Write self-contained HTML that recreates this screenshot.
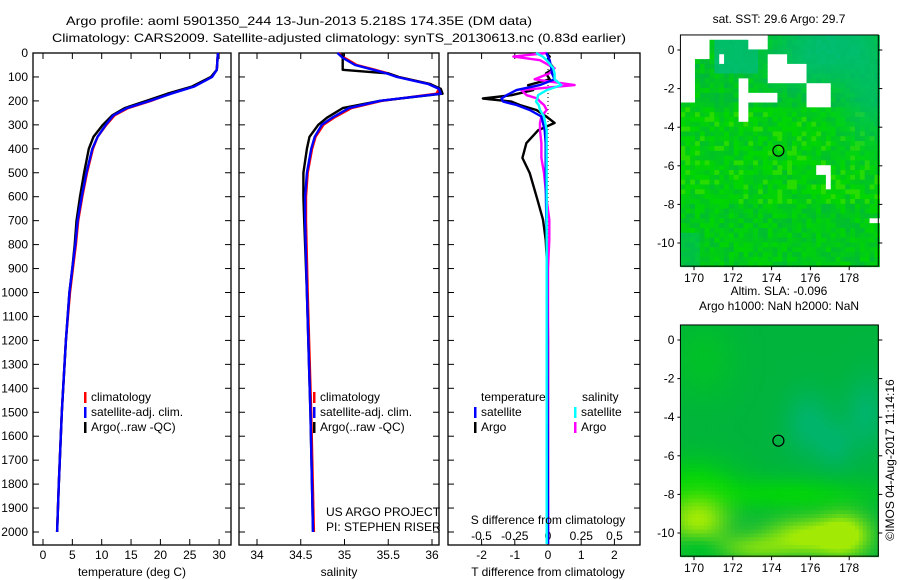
<!DOCTYPE html>
<html><head><meta charset="utf-8"><style>
html,body{margin:0;padding:0;background:#fff;}
svg{display:block;font-family:"Liberation Sans",sans-serif;}
text{font-size:12px;fill:#000;}
</style></head><body>
<svg id="chart" width="900" height="580" viewBox="0 0 900 580" xmlns="http://www.w3.org/2000/svg">
<text x="66" y="25" font-size="13" textLength="466" lengthAdjust="spacingAndGlyphs">Argo profile: aoml 5901350_244 13-Jun-2013 5.218S 174.35E (DM data)</text>
<text x="52" y="42" font-size="13" textLength="574" lengthAdjust="spacingAndGlyphs">Climatology: CARS2009. Satellite-adjusted climatology: synTS_20130613.nc (0.83d earlier)</text>
<g id="g1"></g><g id="g2"></g><g id="g3"></g><g id="m1"></g><g id="m2"></g>
<text transform="translate(894,460) rotate(-90)" text-anchor="middle" font-size="12">©IMOS 04-Aug-2017 11:14:16</text>
</svg>
<script>
// ---- data ----
const tDepth=[0,70,100,140,170,200,230,260,300,350,400,500,600,700,800,900,1000,1200,1500,1800,2000];
const tClim=[29.8,29.6,28.7,25.6,21.6,18.4,14.5,12.2,10.8,9.3,8.5,7.5,6.7,6.0,5.6,5.1,4.6,3.9,3.2,2.7,2.4];
const tSat=[29.8,29.6,28.8,25.8,21.8,18.2,14.3,12.0,10.7,9.3,8.4,7.4,6.6,5.9,5.5,5.0,4.5,3.9,3.2,2.7,2.4];
const tArgo=[29.8,29.6,28.6,25.4,21.2,17.6,13.9,11.8,10.2,8.6,7.8,7.0,6.3,5.7,5.4,5.0,4.5,3.9,3.2,2.7,2.4];
const sDepth=[0,20,50,70,85,100,130,150,170,200,230,270,300,350,400,500,600,700,1000,1500,2000];
const sClim=[34.93,35.0,35.14,35.35,35.5,35.62,35.98,36.08,36.05,35.42,35.08,34.88,34.76,34.67,34.63,34.58,34.56,34.56,34.58,34.62,34.65];
const sSat=[34.92,34.98,35.12,35.33,35.48,35.6,35.96,36.08,36.1,35.4,35.05,34.86,34.74,34.66,34.62,34.57,34.55,34.55,34.57,34.61,34.64];
const sArgo=[34.98,34.98,34.98,34.98,35.5,35.62,35.98,36.1,36.12,35.4,34.98,34.8,34.7,34.6,34.57,34.53,34.53,34.54,34.57,34.61,34.64];
const dDepth=[0,15,30,64,85,110,134,155,176,190,203,217,238,265,292,323,376,438,501,612,696,780,900,1200,1600,2050];
const dTArgo=[-0.06,0.05,-0.03,0.18,-0.06,0.05,-0.6,-0.45,-1.1,-1.96,-1.1,-0.85,-0.35,-0.05,0.2,-0.3,-0.65,-0.77,-0.55,-0.32,-0.15,-0.07,-0.02,0.0,0.0,0.0];
const dTSat=[-0.05,0.0,0.05,0.1,0.12,0.2,-0.25,-0.95,-1.25,-1.4,-1.35,-0.95,-0.55,-0.2,-0.15,-0.1,-0.07,-0.07,-0.07,-0.06,-0.05,-0.04,-0.03,-0.02,-0.01,0.0];
const dSSat=[-0.09,-0.04,-0.01,0.04,0.05,0.05,0.1,-0.01,-0.075,-0.08,-0.09,-0.07,-0.06,-0.03,-0.02,-0.01,-0.01,-0.01,-0.01,-0.01,-0.01,-0.01,-0.01,-0.01,-0.01,-0.01];
const dSArgo=[-0.01,-0.26,-0.06,0.05,0.01,-0.1,0.2,-0.2,-0.16,-0.08,-0.06,-0.03,-0.01,-0.05,-0.06,-0.06,-0.05,-0.05,-0.03,-0.01,0.01,0.01,0.0,0.0,0.0,0.0];
const depthTicks=[0,100,200,300,400,500,600,700,800,900,1000,1100,1200,1300,1400,1500,1600,1700,1800,1900,2000];
const tTicks=[0,5,10,15,20,25,30];
const sTicks=[34,34.5,35,35.5,36];
const dtTicks=[-2,-1,0,1,2];
const dsTicks=[-0.5,-0.25,0,0.25,0.5];
const dsTickLabels=["-0.5","-0.25","0","0.25","0.5"];
const lonTicks=[170,172,174,176,178];
const latTicks=[0,-2,-4,-6,-8,-10];
const argoLon=174.35, argoLat=-5.218;

const NS="http://www.w3.org/2000/svg";
function el(p,tag,at){const e=document.createElementNS(NS,tag);for(const k in at)e.setAttribute(k,at[k]);p.appendChild(e);return e;}
function txt(p,x,y,s,anchor){const t=el(p,'text',{x:x,y:y,'text-anchor':anchor||'start'});t.textContent=s;return t;}
const TOP=53,BOT=545;
const yD=d=>TOP+d*0.2395;
const xT=v=>43+v*5.87;
const xS=v=>257+(v-34)*87.5;
const xDT=v=>548+v*33.2;
const xDS=v=>548+v*133;

function frame(g,x0,x1,name){
  const r=el(g,'rect',{x:x0,y:TOP,width:x1-x0,height:BOT-TOP,fill:'none',stroke:'#000','stroke-width':1.3});
  
  
  depthTicks.forEach(d=>{el(g,'line',{x1:x0,x2:x0+6,y1:yD(d),y2:yD(d),stroke:'#000'});el(g,'line',{x1:x1,x2:x1-6,y1:yD(d),y2:yD(d),stroke:'#000'});});
}
function xticks(g,vals,fx,labels,ly,name){
  vals.forEach((v,i)=>{const x=fx(v);el(g,'line',{x1:x,x2:x,y1:TOP,y2:TOP+6,stroke:'#000'});el(g,'line',{x1:x,x2:x,y1:BOT,y2:BOT-6,stroke:'#000'});
    if(labels){const t=txt(g,x,ly,labels[i],'middle');}});
}
function line(g,depths,vals,fx,fy,col,name){
  const pts=depths.map((d,i)=>fx(vals[i]).toFixed(1)+','+fy(d).toFixed(1)).join(' ');
  const p=el(g,'polyline',{points:pts,fill:'none',stroke:col,'stroke-width':2.4,'stroke-linejoin':'round'});
  
  
}
function legend(g,x,y,col,label,name){
  el(g,'rect',{x:x,y:y-9,width:2.5,height:11,fill:col});
  const t=txt(g,x+7,y,label);
  
  
}
// Panel 1
const g1=document.getElementById('g1');
frame(g1,33,231,'temperature-panel');
depthTicks.forEach(d=>{const t=txt(g1,28,yD(d)+4,String(d),'end');});
xticks(g1,tTicks,xT,tTicks.map(String),559,'temperature');
line(g1,tDepth,tClim,xT,yD,'#ff0000','temperature-climatology-line');
line(g1,tDepth,tArgo,xT,yD,'#000000','temperature-argo-line');
line(g1,tDepth,tSat,xT,yD,'#0000ff','temperature-satellite-line');
{const t=txt(g1,132,576,'temperature (deg C)','middle');}
legend(g1,84,401,'#ff0000','climatology','legend-climatology');
legend(g1,84,416,'#0000ff','satellite-adj. clim.','legend-satellite');
legend(g1,84,431,'#000000','Argo(..raw -QC)','legend-argo');
// Panel 2
const g2=document.getElementById('g2');
frame(g2,239,439,'salinity-panel');
xticks(g2,sTicks,xS,sTicks.map(String),559,'salinity');
line(g2,sDepth,sClim,xS,yD,'#ff0000','salinity-climatology-line');
line(g2,sDepth,sArgo,xS,yD,'#000000','salinity-argo-line');
line(g2,sDepth,sSat,xS,yD,'#0000ff','salinity-satellite-line');
{const t=txt(g2,339,576,'salinity','middle');}
legend(g2,313,401,'#ff0000','climatology','legend-climatology-2');
legend(g2,313,416,'#0000ff','satellite-adj. clim.','legend-satellite-2');
legend(g2,313,431,'#000000','Argo(..raw -QC)','legend-argo-2');
{const t=txt(g2,326,516,'US ARGO PROJECT');
 const u=txt(g2,326,531,'PI: STEPHEN RISER');}
// Panel 3
const g3=document.getElementById('g3');
frame(g3,448,640,'difference-panel');
el(g3,'line',{x1:548,x2:548,y1:TOP,y2:BOT,stroke:'#000','stroke-dasharray':'1,3'});
xticks(g3,dtTicks,xDT,dtTicks.map(String),559,'t-difference');
dsTicks.forEach((v,i)=>{const t=txt(g3,xDS(v),540,dsTickLabels[i],'middle');});
line(g3,dDepth,dTArgo,xDT,yD,'#000000','t-diff-argo-line');
line(g3,dDepth,dSArgo,xDS,yD,'#ff00ff','s-diff-argo-line');
line(g3,dDepth,dTSat,xDT,yD,'#0000ff','t-diff-satellite-line');
line(g3,dDepth,dSSat,xDS,yD,'#00ffff','s-diff-satellite-line');
{const t=txt(g3,548,524,'S difference from climatology','middle');
 const u=txt(g3,548,576,'T difference from climatology','middle');
 const a=txt(g3,481,401,'temperature');
 const b=txt(g3,582,401,'salinity');}
legend(g3,474,416,'#0000ff','satellite','legend-t-satellite');
legend(g3,474,431,'#000000','Argo','legend-t-argo');
legend(g3,574,416,'#00ffff','satellite','legend-s-satellite');
legend(g3,574,431,'#ff00ff','Argo','legend-s-argo');

// Maps
const LON0=169.3,LON1=179.5,LATT=0.78,LATB=-11.2;
const lx=lon=>694+(lon-170)*19.4;
function mapFrame(g,y0,name,title1,title2){
  const ly=lat=>y0-lat*19.3;
  const top=ly(LATT),bot=ly(LATB);
  el(g,'rect',{x:lx(LON0),y:top,width:lx(LON1)-lx(LON0),height:bot-top,fill:'none',stroke:'#000','stroke-width':1});
  lonTicks.forEach(v=>{el(g,'line',{x1:lx(v),x2:lx(v),y1:bot,y2:bot+4,stroke:'#000'});const t=txt(g,lx(v),bot+16,String(v),'middle');});
  latTicks.forEach(v=>{el(g,'line',{x1:lx(LON1),x2:lx(LON1)+4,y1:ly(v),y2:ly(v),stroke:'#000'});el(g,'line',{x1:lx(LON0)-3,x2:lx(LON0),y1:ly(v),y2:ly(v),stroke:'#000'});const t=txt(g,lx(LON0)-6,ly(v)+4,String(v),'end');});
  const c=el(g,'circle',{cx:lx(argoLon),cy:ly(argoLat),r:5.5,fill:'none',stroke:'#000','stroke-width':1.2});
  
  
  const t=txt(g,779,top-(title2?30:12),title1,'middle');
  if(title2){const u=txt(g,779,top-15,title2,'middle');}
}
function mix(a,b,t){return a.map((v,i)=>Math.round(v+(b[i]-v)*t));}
function hash(i,j){const s=Math.sin(i*12.9898+j*78.233)*43758.5453;return s-Math.floor(s);}
function gauss(x,y,cx,cy,sx,sy){return Math.exp(-((x-cx)*(x-cx)/(2*sx*sx)+(y-cy)*(y-cy)/(2*sy*sy)));}
// Map 1: SST (texture)
const m1=document.getElementById('m1');
const y1=50; const ly1=lat=>y1-lat*19.3;
const holes=[[169.3,170.0,0.78,-2.6],[169.3,170.9,0.78,-0.5],[170.9,173.1,0.78,0.5],[172.9,173.9,0.78,0.0],[171.3,171.6,-0.3,-0.6],[173.9,174.9,-0.3,-1.6],[174.9,175.7,-0.8,-1.8],[175.7,177.0,-1.8,-2.9],[172.4,172.9,-1.5,-3.7],[172.9,174.2,-2.1,-2.7],[176.2,177.1,-6.0,-6.4],[176.9,177.1,-6.0,-7.2],[179.1,179.5,-8.6,-8.9]];
const cs=0.25;
const nx=Math.round((LON1-LON0)/cs), ny=Math.round((LATT-LATB)/cs);
for(let i=0;i<nx;i++){for(let j=0;j<ny;j++){
  const lon=LON0+i*cs, lat=LATT-j*cs;
  const cl=lon+cs/2,ca=lat-cs/2;
  let hole=holes.some(h=>cl>=h[0]&&cl<=h[1]&&ca<=h[2]&&ca>=h[3]);
  let col;
  if(hole){col=[255,255,255];}else{
    let teal=0;
    if(cl>171&&cl<173.2&&ca>-1.2)teal=0.9;
    teal=Math.max(teal,Math.min(1,gauss(cl,ca,177,0.5,2.2,1.3)*0.9+gauss(cl,ca,179.2,-2.5,1.2,1.8)*0.7+gauss(cl,ca,175.5,-1.2,1.5,0.9)*0.4));
    if(cl<170.2&&ca<-9.5)teal=Math.max(teal,0.45);
    const n=hash(i,j), n2=hash(i+0.5*j,j*1.3+7);
    const bright=(ca<-3&&ca>-8)?0.55:(ca>-3?0.1:0.3);
    let base=mix([0,182,62],[0,215,0],Math.min(1,n*0.8+bright*0.6));
    if(n2>0.85&&ca<-3&&ca>-8)base=[40,220,0];
    col=mix(base,[0,188,120],teal*(0.8+0.2*n));
  }
  el(m1,'rect',{x:lx(lon).toFixed(2),y:ly1(lat).toFixed(2),width:(cs*19.4+0.6).toFixed(2),height:(cs*19.3+0.6).toFixed(2),fill:'rgb('+col.join(',')+')'});
}}
mapFrame(m1,y1,'sst-map','sat. SST: 29.6  Argo: 29.7',null);
// Map 2: SLA
const m2=document.getElementById('m2');
const y2=340; const ly2=lat=>y2-lat*19.3;
const cs2=0.2;
const nx2=Math.round((LON1-LON0)/cs2), ny2=Math.round((LATT-LATB)/cs2);
for(let i=0;i<nx2;i++){for(let j=0;j<ny2;j++){
  const lon=LON0+i*cs2, lat=LATT-j*cs2;
  const cl=lon+cs2/2,ca=lat-cs2/2;
  let col=[0,180,60];
  const bright=Math.min(1,gauss(cl,ca,170,-7.5,1.5,1.0)+gauss(cl,ca,175,-8.0,3,0.6)+gauss(cl,ca,170.5,-1,1.2,1.5)*0.4);
  col=mix(col,[0,212,10],bright);
  const teal=Math.min(1,gauss(cl,ca,175.9,-4.3,0.9,1.2)+gauss(cl,ca,178.9,-3.8,0.8,1.4)+gauss(cl,ca,177.3,-5.5,0.7,0.9)*0.8);
  col=mix(col,[0,180,125],teal*0.7);
  const yel=Math.min(1,gauss(cl,ca,170.2,-9.3,1.1,0.9)+gauss(cl,ca,175.8,-10.2,1.5,0.7)+gauss(cl,ca,177.8,-10.1,0.9,0.8)+gauss(cl,ca,173,-10.8,1.3,0.5)*0.6);
  col=mix(col,[180,240,0],yel*0.9);
  const dark=gauss(cl,ca,170.2,-11,0.8,0.5);
  col=mix(col,[0,195,40],dark);
  el(m2,'rect',{x:lx(lon).toFixed(2),y:ly2(lat).toFixed(2),width:(cs2*19.4+0.6).toFixed(2),height:(cs2*19.3+0.6).toFixed(2),fill:'rgb('+col.join(',')+')'});
}}
mapFrame(m2,y2,'sla-map','Altim. SLA: -0.096','Argo h1000: NaN h2000: NaN');
</script>
</body></html>
